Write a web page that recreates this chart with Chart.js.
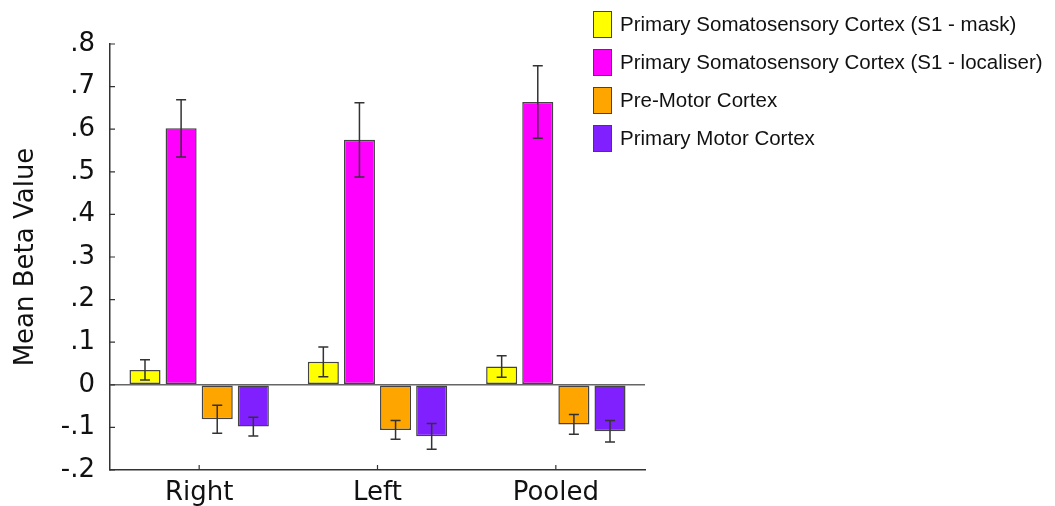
<!DOCTYPE html>
<html>
<head>
<meta charset="utf-8">
<script src="https://cdn.jsdelivr.net/npm/chart.js@4"></script>
<style>
  body { margin: 0; background: #fff; }
  #wrap { position: relative; width: 1055px; height: 506px; }
  #legend { position: absolute; left: 593px; top: 5px; font-family: "Liberation Sans", Arial, sans-serif; font-size: 20.5px; color: #111; }
  .row { display: flex; align-items: center; height: 38px; }
  .box { width: 17px; height: 25px; border: 1.5px solid #444; margin-right: 8px; }
</style>
</head>
<body>
<div id="wrap">
  <canvas id="chart" width="1055" height="506"></canvas>
  <div id="legend"></div>
</div>
<script>
// Data
const categories = ['Right', 'Left', 'Pooled'];
const seriesNames = [
    'Primary Somatosensory Cortex (S1 - mask)',
    'Primary Somatosensory Cortex (S1 - localiser)',
    'Pre-Motor Cortex',
    'Primary Motor Cortex'
];
const s1Mask = [0.035, 0.054, 0.043];
const s1MaskErr = [0.024, 0.035, 0.025];
const s1Loc = [0.602, 0.575, 0.664];
const s1LocErr = [0.067, 0.087, 0.085];
const preMotor = [-0.081, -0.106, -0.093];
const preMotorErr = [0.033, 0.022, 0.023];
const motor = [-0.098, -0.121, -0.109];
const motorErr = [0.022, 0.030, 0.025];
const yTickLabels = ['-.2', '-.1', '0', '.1', '.2', '.3', '.4', '.5', '.6', '.7', '.8'];

const colors = ['#ffff00', '#ff00ff', '#ffa500', '#8020ff'];
const values = [s1Mask, s1Loc, preMotor, motor];
const errors = [s1MaskErr, s1LocErr, preMotorErr, motorErr];

// Error bars drawn through the y scale
const errorBars = {
    id: 'errorBars',
    afterDatasetsDraw(chart) {
        const ctx = chart.ctx;
        const y = chart.scales.y;
        ctx.save();
        ctx.strokeStyle = '#333';
        ctx.lineWidth = 1.5;
        chart.data.datasets.forEach((ds, i) => {
            const meta = chart.getDatasetMeta(i);
            meta.data.forEach((bar, j) => {
                const v = ds.data[j], e = ds.errors[j];
                const top = y.getPixelForValue(v + e);
                const bot = y.getPixelForValue(v - e);
                ctx.beginPath();
                ctx.moveTo(bar.x, top); ctx.lineTo(bar.x, bot);
                ctx.moveTo(bar.x - 5, top); ctx.lineTo(bar.x + 5, top);
                ctx.moveTo(bar.x - 5, bot); ctx.lineTo(bar.x + 5, bot);
                ctx.stroke();
            });
        });
        ctx.restore();
    }
};

// Inward tick marks, like the original figure
const innerTicks = {
    id: 'innerTicks',
    afterDraw(chart) {
        const ctx = chart.ctx;
        const { x, y } = chart.scales;
        const area = chart.chartArea;
        ctx.save();
        ctx.strokeStyle = '#333';
        ctx.lineWidth = 1.2;
        ctx.beginPath();
        y.ticks.forEach(t => {
            const py = y.getPixelForValue(t.value);
            ctx.moveTo(area.left, py); ctx.lineTo(area.left + 5, py);
        });
        x.ticks.forEach((t, i) => {
            const px = x.getPixelForTick(i);
            ctx.moveTo(px, area.bottom); ctx.lineTo(px, area.bottom - 5);
        });
        ctx.stroke();
        ctx.restore();
    }
};

new Chart(document.getElementById('chart'), {
    type: 'bar',
    data: {
        labels: categories,
        datasets: seriesNames.map((name, i) => ({
            label: name,
            data: values[i],
            errors: errors[i],
            backgroundColor: colors[i],
            borderColor: '#444',
            borderWidth: 1.5,
            borderSkipped: false,
            categoryPercentage: 0.81,
            barPercentage: 0.86
        }))
    },
    options: {
        responsive: false,
        animation: false,
        layout: { padding: { top: 44, right: 410, bottom: 0, left: 0 } },
        plugins: { legend: { display: false }, tooltip: { enabled: false } },
        scales: {
            x: {
                grid: { display: false },
                border: { display: true, color: '#333', width: 1.5 },
                ticks: { color: '#111', font: { family: 'DejaVu Sans', size: 26 }, padding: 0 },
                afterFit(scale) { scale.height = 36; }
            },
            y: {
                min: -0.2,
                max: 0.8,
                ticks: {
                    stepSize: 0.1,
                    color: '#111',
                    padding: 15,
                    font: { family: 'DejaVu Sans', size: 26 },
                    callback: (v, i) => yTickLabels[i]
                },
                grid: {
                    drawTicks: false,
                    color: ctx => Math.abs(ctx.tick.value) < 1e-9 ? '#666' : 'rgba(0,0,0,0)',
                    lineWidth: 1.5
                },
                border: { display: true, color: '#333', width: 1.5 },
                title: {
                    display: true,
                    text: 'Mean Beta Value',
                    color: '#111',
                    font: { family: 'DejaVu Sans', size: 26 },
                    padding: { top: 11, bottom: 0 }
                },
                afterFit(scale) { scale.width = 110; }
            }
        }
    },
    plugins: [errorBars, innerTicks]
});

// HTML legend built from the series arrays
const legend = document.getElementById('legend');
seriesNames.forEach((name, i) => {
    const row = document.createElement('div');
    row.className = 'row';
    const box = document.createElement('div');
    box.className = 'box';
    box.style.background = colors[i];
    const label = document.createElement('span');
    label.textContent = name;
    row.appendChild(box);
    row.appendChild(label);
    legend.appendChild(row);
});
</script>
</body>
</html>
